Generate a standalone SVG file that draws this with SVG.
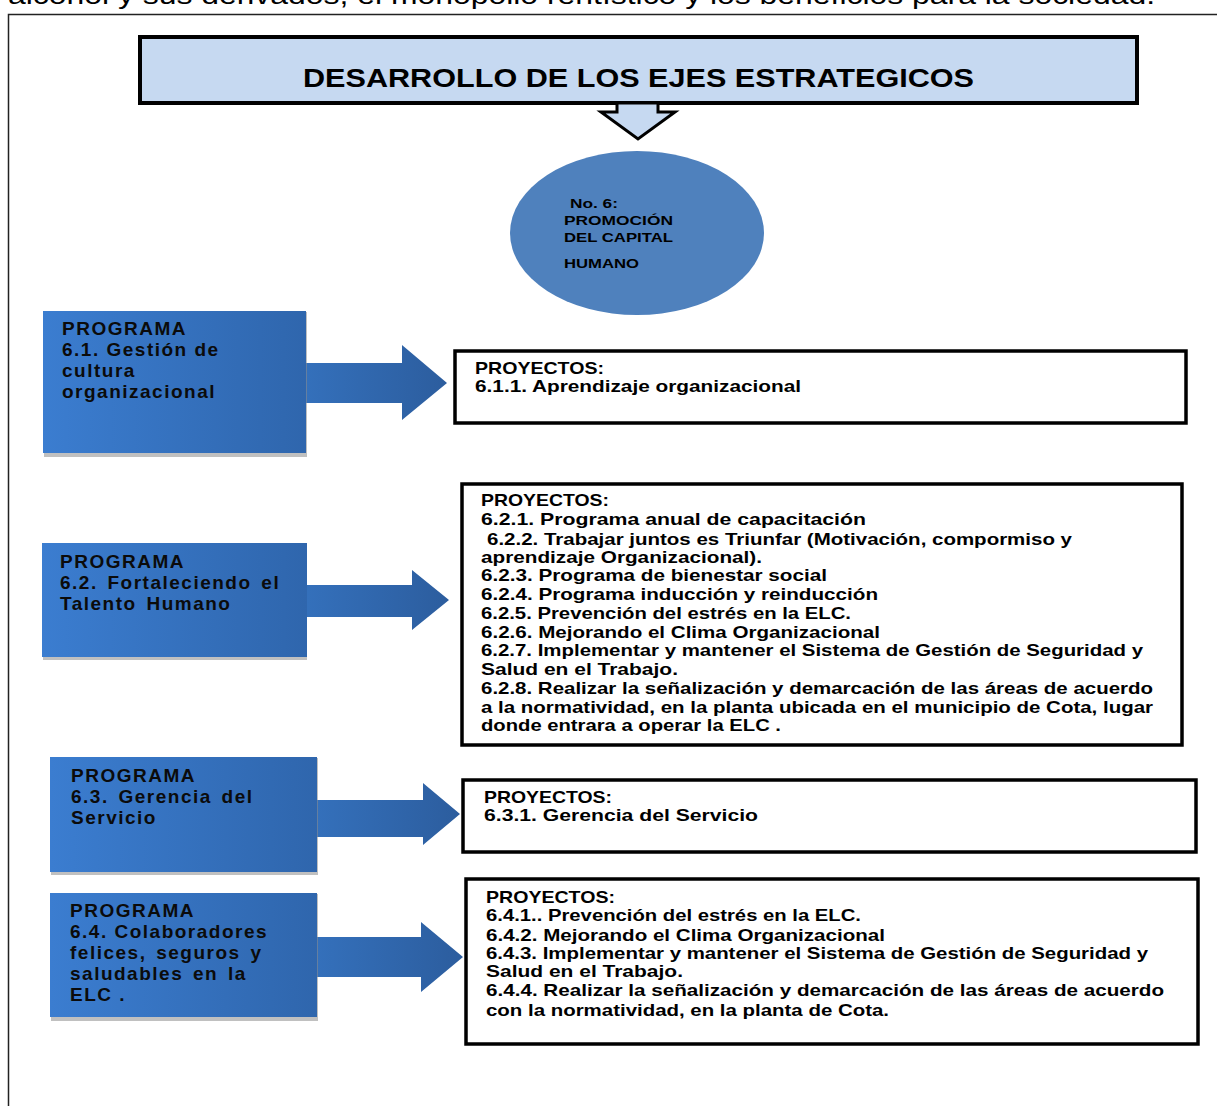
<svg xmlns="http://www.w3.org/2000/svg" width="1217" height="1106" viewBox="0 0 1217 1106">
<defs>
<linearGradient id="gBox" x1="0" y1="0" x2="1" y2="0">
<stop offset="0" stop-color="#3b7dd0"/>
<stop offset="1" stop-color="#2f66ad"/>
</linearGradient>
<linearGradient id="gArr" x1="0" y1="0" x2="1" y2="0">
<stop offset="0" stop-color="#3470bb"/>
<stop offset="1" stop-color="#2c5d9e"/>
</linearGradient>
<style>
.pg{fill:url(#gBox)}
.sh{fill:#8c8c8c;opacity:0.55}
.ar{fill:url(#gArr)}
.pj{fill:#fff;stroke:#000;stroke-width:3.5}
.pt{font-family:"Liberation Sans",Arial,sans-serif;font-weight:bold;font-size:19px;letter-spacing:1.5px;fill:#0b0b0b}
.jt{font-family:"Liberation Sans",Arial,sans-serif;font-weight:bold;font-size:17px;fill:#000}
.et{font-family:"Liberation Sans",Arial,sans-serif;font-weight:bold;font-size:13px;fill:#000}
</style>
</defs>
<rect width="1217" height="1106" fill="#fff"/>
<text x="8" y="4" font-family="Liberation Sans,Arial,sans-serif" font-size="26" textLength="1147" lengthAdjust="spacingAndGlyphs" fill="#000">alcohol y sus derivados, el monopolio rentístico y los beneficios para la sociedad.</text>
<path d="M8.5 1106 V14.5 H1217" fill="none" stroke="#222" stroke-width="1.5"/>

<g id="title">
<rect x="140" y="37" width="997" height="66" fill="#c6d9f1" stroke="#000" stroke-width="4"/>
<text x="303" y="87" font-family="Liberation Sans,Arial,sans-serif" font-weight="bold" font-size="25" textLength="671" lengthAdjust="spacingAndGlyphs" fill="#000">DESARROLLO DE LOS EJES ESTRATEGICOS</text>
</g>

<g id="eje">
<ellipse cx="637" cy="233" rx="127" ry="82" fill="#4f81bd"/>
<text class="et" x="570" y="208" textLength="48" lengthAdjust="spacingAndGlyphs">No. 6:</text>
<text class="et" x="564" y="225" textLength="109" lengthAdjust="spacingAndGlyphs">PROMOCIÓN</text>
<text class="et" x="564" y="242" textLength="109" lengthAdjust="spacingAndGlyphs">DEL CAPITAL</text>
<text class="et" x="564" y="268" textLength="75" lengthAdjust="spacingAndGlyphs">HUMANO</text>
</g>

<g id="connectors">
<polygon points="617,103 617,112 601,112 638,139 675,112 658,112 658,103" fill="#c6d9f1" stroke="#000" stroke-width="3" stroke-linejoin="miter"/>
<rect x="615" y="96" width="45" height="5" fill="#c6d9f1"/>
<polygon class="ar" points="306,363 402,363 402,345 447,383 402,420 402,403 306,403"/>
<polygon class="ar" points="307,585 412,585 412,570 449,600 412,630 412,617 307,617"/>
<polygon class="ar" points="317,800 423,800 423,783 460,814 423,845 423,837 317,837"/>
<polygon class="ar" points="317,937 421,937 421,922 463,957 421,992 421,977 317,977"/>
</g>

<g id="prog1">
<rect class="sh" x="44" y="312" width="263" height="145"/>
<rect class="pg" x="43" y="311" width="263" height="142"/>
<text class="pt" x="62" y="335">PROGRAMA</text>
<text class="pt" x="62" y="356">6.1. Gestión de</text>
<text class="pt" x="62" y="377">cultura</text>
<text class="pt" x="62" y="398">organizacional</text>
</g>

<g id="prog2">
<rect class="sh" x="43" y="544" width="264" height="116"/>
<rect class="pg" x="42" y="543" width="265" height="114"/>
<text class="pt" x="60" y="568">PROGRAMA</text>
<text class="pt" x="60" y="589" word-spacing="3">6.2. Fortaleciendo el</text>
<text class="pt" x="60" y="610" word-spacing="3">Talento Humano</text>
</g>

<g id="prog3">
<rect class="sh" x="51" y="758" width="267" height="117"/>
<rect class="pg" x="50" y="757" width="267" height="115"/>
<text class="pt" x="71" y="782">PROGRAMA</text>
<text class="pt" x="71" y="803" word-spacing="3">6.3. Gerencia del</text>
<text class="pt" x="71" y="824">Servicio</text>
</g>

<g id="prog4">
<rect class="sh" x="51" y="894" width="267" height="127"/>
<rect class="pg" x="50" y="893" width="267" height="124"/>
<text class="pt" x="70" y="917">PROGRAMA</text>
<text class="pt" x="70" y="938">6.4. Colaboradores</text>
<text class="pt" x="70" y="959" word-spacing="3">felices, seguros y</text>
<text class="pt" x="70" y="980" word-spacing="3">saludables en la</text>
<text class="pt" x="70" y="1001">ELC .</text>
</g>

<g id="proy1">
<rect class="pj" x="455" y="351" width="731" height="72"/>
<text class="jt" x="475" y="374" textLength="129" lengthAdjust="spacingAndGlyphs">PROYECTOS:</text>
<text class="jt" x="475" y="392" textLength="326" lengthAdjust="spacingAndGlyphs">6.1.1. Aprendizaje organizacional</text>
</g>

<g id="proy2">
<rect class="pj" x="462" y="484" width="720" height="261"/>
<text class="jt" x="481" y="506" textLength="128" lengthAdjust="spacingAndGlyphs">PROYECTOS:</text>
<text class="jt" x="481" y="525" textLength="385" lengthAdjust="spacingAndGlyphs">6.2.1.  Programa anual de  capacitación</text>
<text class="jt" x="487" y="545" textLength="585" lengthAdjust="spacingAndGlyphs">6.2.2. Trabajar juntos es Triunfar (Motivación, compormiso y</text>
<text class="jt" x="481" y="563" textLength="281" lengthAdjust="spacingAndGlyphs">aprendizaje Organizacional).</text>
<text class="jt" x="481" y="581" textLength="346" lengthAdjust="spacingAndGlyphs">6.2.3. Programa de bienestar social</text>
<text class="jt" x="481" y="600" textLength="397" lengthAdjust="spacingAndGlyphs">6.2.4. Programa inducción y reinducción</text>
<text class="jt" x="481" y="619" textLength="370" lengthAdjust="spacingAndGlyphs">6.2.5. Prevención del estrés en la ELC.</text>
<text class="jt" x="481" y="638" textLength="399" lengthAdjust="spacingAndGlyphs">6.2.6. Mejorando el Clima Organizacional</text>
<text class="jt" x="481" y="656" textLength="662" lengthAdjust="spacingAndGlyphs">6.2.7. Implementar y mantener el Sistema de Gestión de Seguridad y</text>
<text class="jt" x="481" y="675" textLength="197" lengthAdjust="spacingAndGlyphs">Salud en el Trabajo.</text>
<text class="jt" x="481" y="694" textLength="672" lengthAdjust="spacingAndGlyphs">6.2.8. Realizar la señalización y demarcación de las áreas de acuerdo</text>
<text class="jt" x="481" y="713" textLength="672" lengthAdjust="spacingAndGlyphs">a la normatividad, en la planta ubicada en el municipio de Cota, lugar</text>
<text class="jt" x="481" y="731" textLength="300" lengthAdjust="spacingAndGlyphs">donde entrara a operar la ELC .</text>
</g>

<g id="proy3">
<rect class="pj" x="463" y="780" width="733" height="72"/>
<text class="jt" x="484" y="803" textLength="128" lengthAdjust="spacingAndGlyphs">PROYECTOS:</text>
<text class="jt" x="484" y="821" textLength="274" lengthAdjust="spacingAndGlyphs">6.3.1.  Gerencia del Servicio</text>
</g>

<g id="proy4">
<rect class="pj" x="466" y="879" width="732" height="165"/>
<text class="jt" x="486" y="903" textLength="129" lengthAdjust="spacingAndGlyphs">PROYECTOS:</text>
<text class="jt" x="486" y="921" textLength="375" lengthAdjust="spacingAndGlyphs">6.4.1.. Prevención del estrés en la ELC.</text>
<text class="jt" x="486" y="941" textLength="399" lengthAdjust="spacingAndGlyphs">6.4.2. Mejorando el Clima Organizacional</text>
<text class="jt" x="486" y="959" textLength="662" lengthAdjust="spacingAndGlyphs">6.4.3. Implementar y mantener el Sistema de Gestión de Seguridad y</text>
<text class="jt" x="486" y="977" textLength="197" lengthAdjust="spacingAndGlyphs">Salud en el Trabajo.</text>
<text class="jt" x="486" y="996" textLength="678" lengthAdjust="spacingAndGlyphs">6.4.4.  Realizar la señalización y demarcación de las áreas de acuerdo</text>
<text class="jt" x="486" y="1016" textLength="403" lengthAdjust="spacingAndGlyphs">con la normatividad, en la planta de Cota.</text>
</g>
</svg>
